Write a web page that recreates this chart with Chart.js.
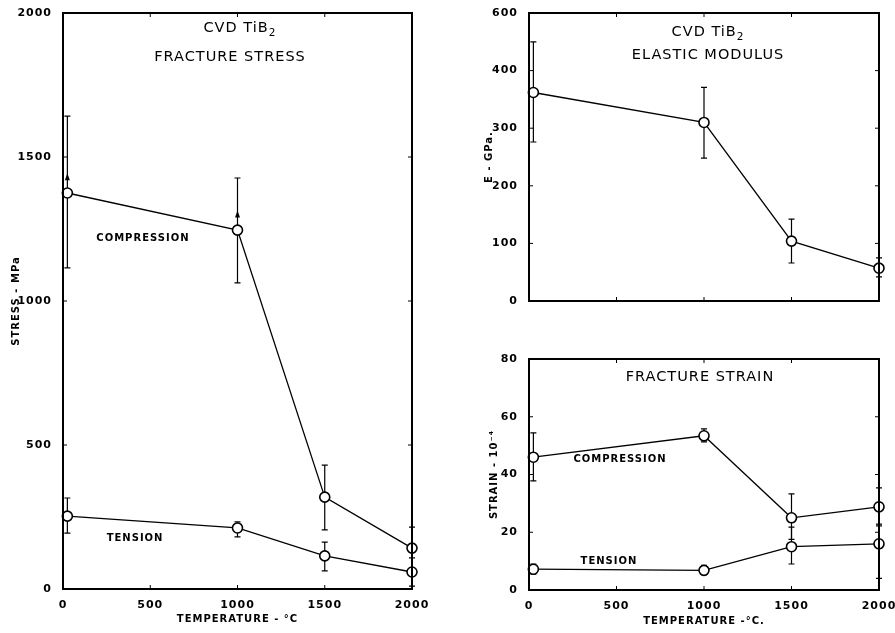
<!DOCTYPE html>
<html>
<head>
<meta charset="utf-8">
<script src="https://cdn.jsdelivr.net/npm/chart.js@4.4.0/dist/chart.umd.min.js"></script>
<style>
  html, body { margin: 0; padding: 0; background: #fff; }
  canvas { position: absolute; }
</style>
</head>
<body>
<canvas id="stress" width="440" height="633" style="left:0;top:0;width:440px;height:633px"></canvas>
<canvas id="modulus" width="455" height="330" style="left:440px;top:0;width:455px;height:330px"></canvas>
<canvas id="strain" width="455" height="303" style="left:440px;top:330px;width:455px;height:303px"></canvas>
<script>
// temperatures (deg C) of the measurements
var temps = [25, 1000, 1500, 2000];
var tempTicks = [0, 500, 1000, 1500, 2000];
var tempTickLabels = ['0', '500', '1000', '1500', '2000'];

// fracture stress, MPa
var stressComp = [1375, 1246, 319, 142];
var stressCompHi = [1642, 1427, 430, 215];
var stressCompLo = [1115, 1063, 205, 70];
var stressCompArrow = [1430, 1300, null, null];
var stressTens = [253, 212, 115, 59];
var stressTensHi = [316, 233, 163, 108];
var stressTensLo = [194, 181, 63, 10];
var stressTicks = [0, 500, 1000, 1500, 2000];
var stressTickLabels = ['0', '500', '1000', '1500', '2000'];

// elastic modulus, GPa
var modulus = [362, 310, 104, 57];
var modulusHi = [450, 371, 142, 75];
var modulusLo = [276, 248, 66, 42];
var modulusTicks = [0, 100, 200, 300, 400, 500];
var modulusTickLabels = ['0', '100', '200', '300', '400', '600'];

// fracture strain, 10^-4
var strainComp = [46, 53.4, 25, 28.8];
var strainCompHi = [54.4, 55.8, 33.3, 35.4];
var strainCompLo = [37.8, 51.3, 17.5, 22.2];
var strainTens = [7.2, 6.8, 15, 16];
var strainTensHi = [9, 8.5, 21.8, 22.8];
var strainTensLo = [5.5, 5.3, 9, 4];
var strainTicks = [0, 20, 40, 60, 80];
var strainTickLabels = ['0', '20', '40', '60', '80'];

Chart.defaults.font.family = "'DejaVu Sans', sans-serif";
Chart.defaults.color = '#000';

function pts(vals) {
    return temps.map(function (t, i) { return { x: t, y: vals[i] }; });
}

function series(vals) {
    return {
        data: pts(vals),
        showLine: true,
        borderColor: '#000',
        borderWidth: 1.3,
        pointRadius: 5,
        pointBorderWidth: 1.6,
        pointBackgroundColor: '#fff',
        pointBorderColor: '#000',
        clip: false
    };
}

/**
 * decor
 *
 * Per-chart plugin: error bars, frame with inward ticks and the
 * text notes inside the plot.
 */
function decor(spec) {
    return {
        id: 'decor',
        beforeDraw: function (chart) {
            chart.ctx.letterSpacing = '1px';
        },
        beforeDatasetsDraw: function (chart) {
            var ctx = chart.ctx, xs = chart.scales.x, ys = chart.scales.y;
            ctx.save();
            ctx.strokeStyle = '#000';
            ctx.fillStyle = '#000';
            ctx.lineWidth = 1.2;
            spec.bars.forEach(function (b) {
                temps.forEach(function (t, i) {
                    var x = xs.getPixelForValue(t);
                    var yh = ys.getPixelForValue(b.hi[i]);
                    var yl = ys.getPixelForValue(b.lo[i]);
                    ctx.beginPath();
                    ctx.moveTo(x, yh); ctx.lineTo(x, yl);
                    ctx.moveTo(x - 3, yh); ctx.lineTo(x + 3, yh);
                    ctx.moveTo(x - 3, yl); ctx.lineTo(x + 3, yl);
                    ctx.stroke();
                    if (b.arrow && b.arrow[i] != null) {
                        var ya = ys.getPixelForValue(b.arrow[i]);
                        ctx.beginPath();
                        ctx.moveTo(x, ya - 4);
                        ctx.lineTo(x - 2.5, ya + 3);
                        ctx.lineTo(x + 2.5, ya + 3);
                        ctx.closePath();
                        ctx.fill();
                    }
                });
            });
            ctx.restore();
        },
        afterDraw: function (chart) {
            var ctx = chart.ctx, a = chart.chartArea;
            var xs = chart.scales.x, ys = chart.scales.y;
            ctx.save();
            ctx.strokeStyle = '#000';
            ctx.lineWidth = 2;
            ctx.strokeRect(a.left, a.top, a.right - a.left, a.bottom - a.top);
            ctx.lineWidth = 1;
            ctx.beginPath();
            xs.ticks.forEach(function (tk) {
                var x = xs.getPixelForValue(tk.value);
                ctx.moveTo(x, a.bottom); ctx.lineTo(x, a.bottom - 4);
                ctx.moveTo(x, a.top); ctx.lineTo(x, a.top + 4);
            });
            ys.ticks.forEach(function (tk) {
                var y = ys.getPixelForValue(tk.value);
                ctx.moveTo(a.left, y); ctx.lineTo(a.left + 4, y);
                ctx.moveTo(a.right, y); ctx.lineTo(a.right - 4, y);
            });
            ctx.stroke();

            ctx.fillStyle = '#000';
            ctx.textBaseline = 'middle';
            ctx.textAlign = 'left';
            spec.notes.forEach(function (n) {
                ctx.letterSpacing = n.spacing || '1px';
                ctx.font = n.font;
                var w = ctx.measureText(n.text).width;
                var sw = 0;
                if (n.sub) {
                    ctx.font = n.subFont;
                    sw = ctx.measureText(n.sub).width;
                }
                var cx = xs.getPixelForValue(n.x), cy = ys.getPixelForValue(n.y);
                var x0 = cx - (w + sw) / 2;
                ctx.font = n.font;
                ctx.fillText(n.text, x0, cy);
                if (n.sub) {
                    ctx.font = n.subFont;
                    ctx.fillText(n.sub, x0 + w, cy + 5);
                }
            });
            ctx.restore();
        }
    };
}

var tickFont = { size: 11, weight: 'bold' };
var titleFont = { size: 10, weight: 'bold' };
var headFont = '14.5px "DejaVu Sans", sans-serif';
var subFont = '10.5px "DejaVu Sans", sans-serif';
var labelFont = 'bold 10px "DejaVu Sans", sans-serif';

function xAxis(height, showLabels, title, titlePad) {
    return {
        type: 'linear', min: 0, max: 2000,
        grid: { display: false }, border: { display: false },
        afterBuildTicks: function (s) { s.ticks = tempTicks.map(function (v) { return { value: v }; }); },
        afterFit: function (s) { s.height = height; s.paddingLeft = 0; s.paddingRight = 0; },
        ticks: {
            display: showLabels, font: tickFont, padding: 2, maxRotation: 0, autoSkip: false,
            callback: function (v, i) { return tempTickLabels[i]; }
        },
        title: { display: !!title, text: title, font: titleFont, padding: { top: 0, bottom: titlePad } }
    };
}

function yAxis(max, ticks, labels, width, title, titlePad) {
    return {
        type: 'linear', min: 0, max: max,
        grid: { display: false }, border: { display: false },
        afterBuildTicks: function (s) { s.ticks = ticks.map(function (v) { return { value: v }; }); },
        afterFit: function (s) { s.width = width; s.paddingTop = 0; s.paddingBottom = 0; },
        ticks: {
            font: tickFont, padding: 3, autoSkip: false,
            callback: function (v, i) { return labels[i]; }
        },
        title: { display: true, text: title, font: titleFont, padding: { top: titlePad, bottom: 0 } }
    };
}

function baseOptions(pad, scales) {
    return {
        responsive: false,
        animation: false,
        layout: { padding: pad },
        plugins: { legend: { display: false }, tooltip: { enabled: false } },
        scales: scales
    };
}

new Chart(document.getElementById('stress'), {
    type: 'scatter',
    data: { datasets: [series(stressComp), series(stressTens)] },
    options: baseOptions({ left: 0, top: 13, right: 28, bottom: 0 }, {
        x: xAxis(44, true, 'TEMPERATURE - °C', 8),
        y: yAxis(2000, stressTicks, stressTickLabels, 63, 'STRESS - MPa', 10)
    }),
    plugins: [decor({
        bars: [
            { hi: stressCompHi, lo: stressCompLo, arrow: stressCompArrow },
            { hi: stressTensHi, lo: stressTensLo }
        ],
        notes: [
            { text: 'CVD TiB', sub: '2', x: 1014, y: 1948, font: headFont, subFont: subFont },
            { text: 'FRACTURE STRESS', x: 957, y: 1847, font: headFont },
            { text: 'COMPRESSION', x: 458, y: 1219, font: labelFont },
            { text: 'TENSION', x: 413, y: 177, font: labelFont }
        ]
    })]
});

new Chart(document.getElementById('modulus'), {
    type: 'scatter',
    data: { datasets: [series(modulus)] },
    options: baseOptions({ left: 0, top: 13, right: 16, bottom: 0 }, {
        x: xAxis(29, false, '', 0),
        y: yAxis(500, modulusTicks, modulusTickLabels, 89, 'E - GPa.', 43)
    }),
    plugins: [decor({
        bars: [{ hi: modulusHi, lo: modulusLo }],
        notes: [
            { text: 'CVD TiB', sub: '2', x: 1023, y: 466, font: headFont, subFont: subFont },
            { text: 'ELASTIC MODULUS', x: 1023, y: 426, font: headFont }
        ]
    })]
});

new Chart(document.getElementById('strain'), {
    type: 'scatter',
    data: { datasets: [series(strainComp), series(strainTens)] },
    options: baseOptions({ left: 0, top: 29, right: 16, bottom: 0 }, {
        x: xAxis(43, true, 'TEMPERATURE -°C.', 6),
        y: yAxis(80, strainTicks, strainTickLabels, 89, 'STRAIN - 10⁻⁴', 48)
    }),
    plugins: [decor({
        bars: [
            { hi: strainCompHi, lo: strainCompLo },
            { hi: strainTensHi, lo: strainTensLo }
        ],
        notes: [
            { text: 'FRACTURE STRAIN', x: 977, y: 73.8, font: headFont },
            { text: 'COMPRESSION', x: 520, y: 45.4, font: labelFont },
            { text: 'TENSION', x: 457, y: 10, font: labelFont }
        ]
    })]
});
</script>
</body>
</html>
